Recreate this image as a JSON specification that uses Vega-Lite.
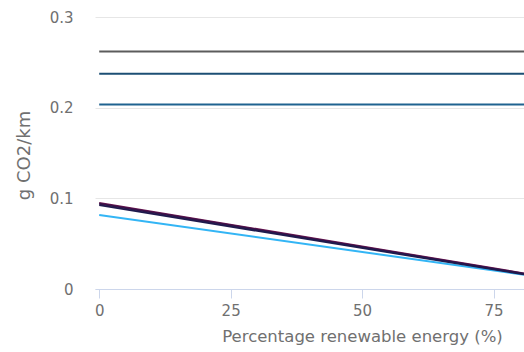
{
  "$schema": "https://vega.github.io/schema/vega-lite/v6.json",
  "width": 429,
  "height": 272,
  "autosize": {"type": "none"},
  "padding": {"left": 95, "top": 17, "right": 0, "bottom": 63},
  "background": "white",
  "config": {
    "view": {"stroke": null},
    "font": "DejaVu Sans"
  },
  "data": {
    "values": [
      {"s": "A", "x": 0, "y": 0.262},
      {"s": "A", "x": 80.8, "y": 0.262},
      {"s": "B", "x": 0, "y": 0.2373},
      {"s": "B", "x": 80.8, "y": 0.2373},
      {"s": "C", "x": 0, "y": 0.2034},
      {"s": "C", "x": 80.8, "y": 0.2034},
      {"s": "D", "x": 0, "y": 0.0815},
      {"s": "D", "x": 80.8, "y": 0.0158},
      {"s": "E", "x": 0, "y": 0.0950},
      {"s": "E", "x": 80.8, "y": 0.0172},
      {"s": "F", "x": 0, "y": 0.0940},
      {"s": "F", "x": 80.8, "y": 0.0168},
      {"s": "G", "x": 0, "y": 0.0925},
      {"s": "G", "x": 80.8, "y": 0.0162}
    ]
  },
  "mark": {"type": "line", "strokeWidth": 2, "clip": true},
  "encoding": {
    "x": {
      "field": "x", "type": "quantitative",
      "scale": {"domain": [-0.8, 80.8], "nice": false, "zero": false},
      "axis": {
        "values": [0, 25, 50, 75],
        "title": "Percentage renewable energy (%)",
        "titleFont": "DejaVu Sans", "titleFontSize": 16.5, "titleFontWeight": "normal", "titleColor": "#707070",
        "titleX": 267, "titleAnchor": "middle", "titleAlign": "center",
        "titlePadding": 10,
        "labelFont": "DejaVu Sans", "labelFontSize": 15, "labelColor": "#707070", "labelPadding": 5,
        "domainColor": "#ccd6eb", "tickColor": "#ccd6eb", "tickSize": 9,
        "grid": false
      }
    },
    "y": {
      "field": "y", "type": "quantitative",
      "scale": {"domain": [0, 0.3], "nice": false},
      "axis": {
        "values": [0, 0.1, 0.2, 0.3],
        "format": "~g",
        "title": "g CO2/km",
        "titleFont": "DejaVu Sans", "titleFontSize": 18, "titleFontWeight": "normal", "titleColor": "#707070",
        "titleY": 138,
        "titlePadding": 16,
        "labelFont": "DejaVu Sans", "labelFontSize": 15, "labelColor": "#707070", "labelPadding": 22,
        "domain": false, "ticks": false,
        "gridColor": "#e6e6e6"
      }
    },
    "color": {
      "field": "s", "type": "nominal", "legend": null,
      "scale": {
        "domain": ["A", "B", "C", "D", "E", "F", "G"],
        "range": ["#5c5c5c", "#1c4f74", "#1f6390", "#33b5f5", "#6b1550", "#3a1248", "#1f1a4d"]
      }
    }
  }
}
